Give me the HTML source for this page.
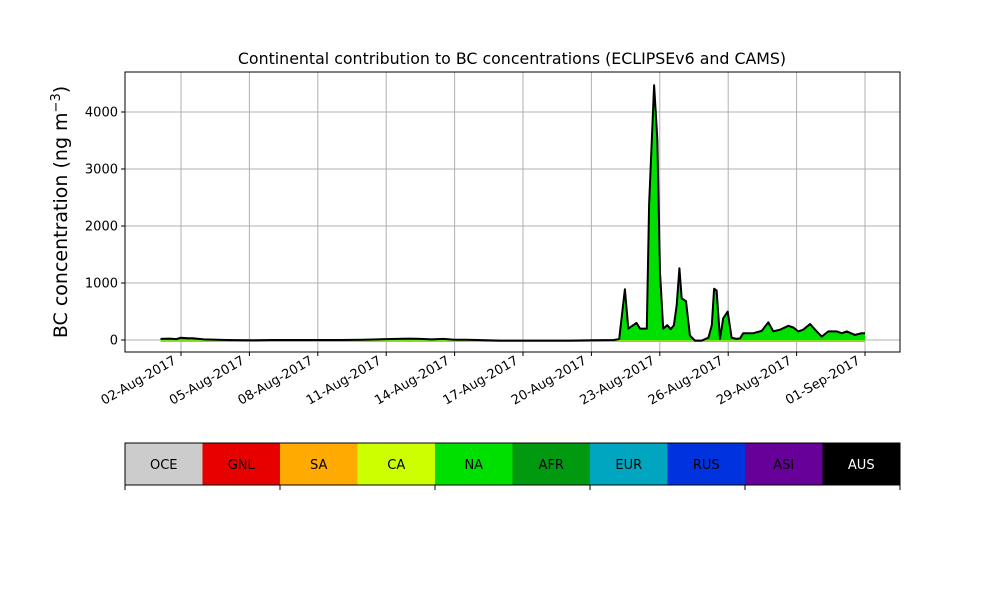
<!DOCTYPE html>
<html><head><meta charset="utf-8"><style>
body{margin:0;background:#fff;font-family:"Liberation Sans","DejaVu Sans",sans-serif}
svg text{font-family:"DejaVu Sans","Liberation Sans",sans-serif}
</style></head><body>
<svg id="c" width="1000" height="600" xmlns="http://www.w3.org/2000/svg">
<text x="512" y="64" text-anchor="middle" font-size="15.8">Continental contribution to BC concentrations (ECLIPSEv6 and CAMS)</text>
<g id="grid"></g><g id="series"></g><g id="axes"></g><g id="legend"></g>
</svg>
<script>
const days = [0.1,0.5,0.8,1.0,1.3,1.5,2.0,3,4,5,6,7,8,9,10,10.5,11,11.5,12,12.5,13,13.5,14,15,16,17,18,19,20.0,20.22,20.47,20.62,20.98,21.13,21.43,21.53,21.75,21.89,22.01,22.15,22.33,22.48,22.62,22.74,22.86,22.96,23.15,23.32,23.54,23.84,24.13,24.28,24.38,24.49,24.64,24.78,24.98,25.15,25.37,25.52,25.66,26.1,26.47,26.76,26.98,27.27,27.64,27.86,28.07,28.29,28.59,28.81,29.1,29.39,29.76,29.98,30.2,30.56,30.86,31.0];
const totals = [20,25,15,40,30,30,10,0,-5,0,0,0,0,5,15,20,25,20,10,20,5,5,0,-10,-10,-10,-10,-5,0,20,890,200,300,200,200,2370,4470,3530,1190,200,260,190,260,610,1260,730,680,80,-10,-10,40,260,900,870,20,380,500,40,20,30,120,120,160,310,150,180,250,220,150,180,280,180,60,150,150,120,150,90,120,120];
const yTicks = [0,1000,2000,3000,4000];
const xTickLabels = ['02-Aug-2017','05-Aug-2017','08-Aug-2017','11-Aug-2017','14-Aug-2017','17-Aug-2017','20-Aug-2017','23-Aug-2017','26-Aug-2017','29-Aug-2017','01-Sep-2017'];
const xTickDays = [1,4,7,10,13,16,19,22,25,28,31];
const regions = ['OCE','GNL','SA','CA','NA','AFR','EUR','RUS','ASI','AUS'];
const regionColors = ['#cccccc','#e60000','#ffaa00','#ccff00','#00e000','#009910','#00a6bf','#0033dd','#660099','#000000'];

const NS='http://www.w3.org/2000/svg';
const L=125,R=900,T=72,B=352;
const x=d=>158.2+d*22.8;
const y=v=>340-v*0.057;
function mk(tag,attrs,parent){const e=document.createElementNS(NS,tag);for(const k in attrs)e.setAttribute(k,attrs[k]);document.getElementById(parent).appendChild(e);return e;}
xTickDays.forEach(d=>{const e=mk('line',{x1:x(d),x2:x(d),y1:T,y2:B,stroke:'#b0b0b0','stroke-width':1},'grid');

});
yTicks.forEach(v=>{const e=mk('line',{x1:L,x2:R,y1:y(v),y2:y(v),stroke:'#b0b0b0','stroke-width':1},'grid');

});
let pts=days.map((d,i)=>x(d).toFixed(1)+','+y(totals[i]).toFixed(1));
let area=mk('path',{d:'M'+x(days[0])+','+y(0)+' L'+pts.join(' L')+' L'+x(days[days.length-1])+','+y(0)+' Z',fill:'#00e000',stroke:'none'},'series');


let base=mk('line',{x1:x(days[0]),x2:x(days[days.length-1]),y1:y(0)+1,y2:y(0)+1,stroke:'#80e020','stroke-width':2},'series');


let line=mk('polyline',{points:pts.join(' '),fill:'none',stroke:'#000','stroke-width':2,'stroke-linejoin':'round'},'series');


let fr=mk('rect',{x:L,y:T,width:R-L,height:B-T,fill:'none',stroke:'#000','stroke-width':1},'axes');


yTicks.forEach(v=>{mk('line',{x1:L-4,x2:L,y1:y(v),y2:y(v),stroke:'#000'},'axes');
const t=mk('text',{x:L-7,y:y(v)+4.5,'text-anchor':'end','font-size':13},'axes');t.textContent=v;

});
xTickDays.forEach((d,i)=>{mk('line',{x1:x(d),x2:x(d),y1:B,y2:B+4,stroke:'#000'},'axes');
const ax=x(d)-4, ay=B+11;
const t=mk('text',{x:ax,y:ay,'text-anchor':'end','font-size':13,transform:'rotate(-30 '+ax+' '+ay+')'},'axes');t.textContent=xTickLabels[i];

});
const yl=mk('text',{x:67,y:212,'text-anchor':'middle','font-size':19,transform:'rotate(-90 67 212)'},'axes');
yl.innerHTML='BC concentration (ng m<tspan dy="-7" font-size="13">−3</tspan><tspan dy="7">)</tspan>';


const cw=(R-L)/regions.length;
regions.forEach((r,i)=>{const rc=mk('rect',{x:L+i*cw,y:443,width:cw,height:42,fill:regionColors[i]},'legend');


const t=mk('text',{x:L+i*cw+cw/2,y:469,'text-anchor':'middle','font-size':13,fill:i==9?'#fff':'#000'},'legend');t.textContent=r;

});
const lf=mk('rect',{x:L,y:443,width:R-L,height:42,fill:'none',stroke:'#000'},'legend');


for(let i=0;i<=regions.length;i+=2){mk('line',{x1:L+i*cw,x2:L+i*cw,y1:485,y2:490,stroke:'#000'},'legend');}
</script>
</body></html>
